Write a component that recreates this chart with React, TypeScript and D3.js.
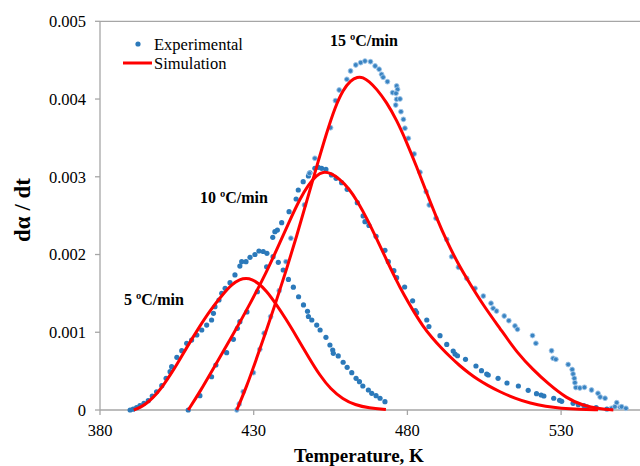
import React from "react";
import * as d3 from "d3";

// Experimental data: [Temperature K, dα/dt]
const exp5: [number, number][] = [
  [389.8, 0], [390.8, 0.00001], [391.9, 0.00003], [393.0, 0.000055], [394.3, 0.000086], [395.7, 0.00012],
  [397.0, 0.00018], [398.4, 0.000235], [400.1, 0.000313], [401.5, 0.000408], [402.8, 0.000493], [403.3, 0.000557],
  [405.0, 0.000678], [406.6, 0.000763], [408.2, 0.000858], [409.8, 0.0009], [411.5, 0.000965], [413.1, 0.001029],
  [414.7, 0.001093], [416.3, 0.001158], [416.9, 0.001244], [417.4, 0.001329], [418.7, 0.001415], [419.6, 0.001501],
  [420.7, 0.001565], [422.3, 0.001638], [423.9, 0.001737], [425.5, 0.001852], [426.1, 0.001908], [427.5, 0.001908],
  [428.8, 0.001964], [430.4, 0.002], [431.7, 0.002045], [433.1, 0.002039], [434.3, 0.002016], [436.3, 0.001972],
  [438.0, 0.0019], [439.6, 0.001801], [441.3, 0.001679], [442.9, 0.00158], [444.6, 0.001457], [446.2, 0.001351],
  [447.5, 0.00127], [447.8, 0.001203], [448.9, 0.001158], [450.5, 0.001093], [451.6, 0.001029], [453.5, 0.000935],
  [454.8, 0.000836], [455.7, 0.000772], [455.9, 0.000729], [457.5, 0.000695], [459.1, 0.000614], [460.4, 0.000549],
  [461.9, 0.00048], [463.3, 0.000408], [464.4, 0.000364], [465.5, 0.000309], [467.3, 0.000257], [468.4, 0.000215],
  [469.8, 0.000184], [471.1, 0.000151], [472.7, 0.000107],
];

const exp10: [number, number][] = [
  [408.7, 0], [412.5, 0.000184], [416.3, 0.000428], [417.7, 0.000579], [421.2, 0.000737], [423.4, 0.000909],
  [424.7, 0.001051], [425.5, 0.001136], [427.8, 0.001261], [431.2, 0.001522], [434.2, 0.001843], [436.2, 0.002221],
  [436.9, 0.002294], [437.7, 0.002315], [439.1, 0.002409], [441.5, 0.002551], [443.8, 0.002714], [444.5, 0.00283],
  [446.1, 0.002937], [447.8, 0.00301], [448.3, 0.003052], [449.9, 0.003109], [451.0, 0.003122], [452.1, 0.003109],
  [453.5, 0.003094], [455.3, 0.003023], [456.8, 0.00298], [458.6, 0.002924], [460.4, 0.002839], [463.7, 0.002667],
  [465.6, 0.002496], [466.2, 0.002422], [467.5, 0.002373], [469.8, 0.002234], [472.7, 0.002054], [473.8, 0.001908],
  [475.6, 0.001792], [476.5, 0.001702], [479.1, 0.001582], [481.7, 0.001405], [482.6, 0.00128], [483.0, 0.001252],
  [486.3, 0.001158], [487.0, 0.001074], [490.6, 0.000956], [492.8, 0.000843], [494.9, 0.000759], [495.5, 0.00072],
  [496.3, 0.000698], [498.9, 0.000652], [502.3, 0.000566], [504.1, 0.000506], [505.8, 0.000463], [506.3, 0.00045],
  [509.5, 0.000408], [512.4, 0.000347], [516.1, 0.000309], [519.3, 0.000253], [522.0, 0.00021], [523.5, 0.000193],
  [524.4, 0.00018], [527.6, 0.000151], [529.5, 0.000125], [530.2, 0.000112], [533.9, 0.000086], [535.6, 0.000068],
  [537.4, 0.000058], [538.4, 0.000042], [541.4, 0.00003], [544.9, 0.000013],
];

const exp15: [number, number][] = [
  [424.5, 0], [425.3, 0.000077], [426.6, 0.000235], [429.9, 0.00048], [432.0, 0.000781], [433.4, 0.000987],
  [435.5, 0.0012], [438.3, 0.001535], [440.5, 0.001908], [442.1, 0.002209], [446.5, 0.002637], [448.1, 0.003045],
  [449.9, 0.003238], [455.0, 0.003631], [456.6, 0.003979], [457.8, 0.004116], [460.3, 0.004254], [461.5, 0.004361],
  [463.2, 0.004438], [464.8, 0.004468], [466.2, 0.004489], [468.0, 0.00448], [469.5, 0.004425], [470.8, 0.004383],
  [471.6, 0.004318], [472.1, 0.00428], [473.5, 0.004223], [475.2, 0.004082], [476.5, 0.004168], [476.8, 0.004125],
  [476.3, 0.004074], [476.5, 0.003997], [477.6, 0.004001], [476.2, 0.003923], [477.9, 0.003837], [478.7, 0.003739],
  [479.2, 0.003624], [480.3, 0.003495], [482.2, 0.003293], [484.1, 0.003058], [486.1, 0.002808], [487.1, 0.002637],
  [489.3, 0.002466], [492.8, 0.002193], [494.4, 0.001972], [496.6, 0.001836], [499.3, 0.001694], [502.0, 0.001565],
  [504.7, 0.001466], [507.2, 0.001373], [507.9, 0.001308], [509.0, 0.001273], [511.5, 0.001209], [513.0, 0.001149],
  [515.0, 0.001081], [515.8, 0.001038], [520.7, 0.000958], [521.8, 0.000858], [526.9, 0.000762], [527.4, 0.000665],
  [528.3, 0.000652], [532.3, 0.000585], [533.6, 0.000521], [533.9, 0.000463], [534.3, 0.000408], [534.5, 0.000351],
  [534.8, 0.000289], [536.1, 0.000283], [537.6, 0.000292], [539.9, 0.000257], [542.0, 0.000215], [542.7, 0.000167],
  [544.3, 0.000151], [546.4, 0.000022], [548.1, 0.000094], [547.5, 0.000042], [549.2, 0.000035], [549.7, 0.000042],
  [551.1, 0.000022],
];

// Simulation curves: [Temperature K, dα/dt]
const sim5: [number, number][] = [
  [391.0, 0], [393.0, 0.00003], [395.0, 0.00008], [397.0, 0.00015], [399.0, 0.000235], [401.0, 0.00034],
  [403.0, 0.00046], [405.0, 0.000585], [408.0, 0.00079], [412.0, 0.00105], [416.0, 0.00129], [420.0, 0.00149],
  [423.0, 0.00162], [425.5, 0.00168], [427.5, 0.001695], [429.5, 0.00168], [431.5, 0.00163], [434.0, 0.00154],
  [437.0, 0.00138], [440.5, 0.00117], [444.0, 0.00094], [448.0, 0.00067], [451.6, 0.00044], [455.0, 0.00027],
  [459.0, 0.00014], [463.0, 0.000065], [467.5, 0.000025], [473.0, 0.000005],
];

const sim10: [number, number][] = [
  [408.7, 0], [412.5, 0.000232], [417.9, 0.000605], [423.4, 0.000978], [428.8, 0.001364], [434.2, 0.001775],
  [438.6, 0.002161], [441.8, 0.002444], [445.1, 0.00272], [447.8, 0.0029], [450.5, 0.00302], [452.5, 0.003065],
  [455.0, 0.00305], [458.0, 0.00297], [461.0, 0.00285], [464.0, 0.00267], [467.0, 0.00245], [470.0, 0.0022],
  [473.0, 0.00195], [476.0, 0.0017], [479.0, 0.00147], [482.0, 0.00127], [485.0, 0.00108], [488.0, 0.00093],
  [491.0, 0.0008], [494.0, 0.00068], [497.0, 0.00057], [500.0, 0.000475], [503.0, 0.00039], [506.0, 0.00032],
  [510.0, 0.000235], [515.0, 0.00015], [520.0, 0.000085], [525.0, 0.000045], [530.0, 0.000022], [536.0, 0.000009],
  [542.0, 0.000003],
];

const sim15: [number, number][] = [
  [424.5, 0], [427.7, 0.0003], [430.9, 0.00066], [434.2, 0.00103], [437.4, 0.00141], [440.7, 0.00181],
  [444.0, 0.00224], [447.2, 0.00268], [450.4, 0.00312], [453.6, 0.00355], [456.5, 0.0039], [459.1, 0.00412],
  [461.5, 0.00424], [463.8, 0.004285], [465.5, 0.00428], [467.5, 0.00423], [470.0, 0.00413], [473.2, 0.00396],
  [476.5, 0.00373], [479.7, 0.00345], [483.0, 0.00313], [486.2, 0.0028], [489.5, 0.00247], [492.8, 0.00217],
  [496.5, 0.00188], [500.4, 0.00162], [505.0, 0.00133], [510.1, 0.00105], [516.0, 0.00072], [520.9, 0.00052],
  [525.7, 0.00034], [531.8, 0.00015], [537.2, 0.000055], [542.7, 0.000015], [547.0, 0],
];

const xTicks = [380, 430, 480, 530];
const yTicks = [0, 0.001, 0.002, 0.003, 0.004, 0.005];
const yTickLabels = ["0", "0.001", "0.002", "0.003", "0.004", "0.005"];
const rateLabels = ["5 ºC/min", "10 ºC/min", "15 ºC/min"];
const rateLabelPos: [number, number][] = [[124, 305], [200, 203], [330, 46]];

const W = 640;
const H = 466;
const serif = "'Liberation Serif', 'Times New Roman', serif";

export default function App() {
  const x = d3.scaleLinear().domain([380, 580]).range([100, 714.8]);
  const y = d3.scaleLinear().domain([0, 0.005]).range([410, 21.3]);
  const line = d3
    .line<[number, number]>()
    .x((d) => x(d[0]))
    .y((d) => y(d[1]))
    .curve(d3.curveBasis);
  const axisColor = "#a6a6a6";
  const dotColor = "#2b79ba";

  return (
    <svg width={W} height={H} style={{ position: "absolute", left: 0, top: 0, background: "#fff" }}>
      {/* frame */}
      <line x1={x(380)} x2={W} y1={y(0.005)} y2={y(0.005)} stroke={axisColor} strokeWidth={1.3} />
      <line x1={x(380)} x2={x(380)} y1={y(0.005)} y2={y(0)} stroke={axisColor} strokeWidth={1.3} />
      <line x1={x(380)} x2={W} y1={y(0)} y2={y(0)} stroke={axisColor} strokeWidth={1.3} />
      {yTicks.map((t, i) => (
        <g key={"yt" + i}>
          <line x1={x(380) - 5} x2={x(380)} y1={y(t)} y2={y(t)} stroke={axisColor} strokeWidth={1.3} />
          <text x={86} y={y(t)} dy="0.35em" textAnchor="end" fontFamily={serif} fontSize={16.5} fill="#000">
            {yTickLabels[i]}
          </text>
        </g>
      ))}
      {xTicks.map((t) => (
        <g key={"xt" + t}>
          <line x1={x(t)} x2={x(t)} y1={y(0)} y2={y(0) + 5} stroke={axisColor} strokeWidth={1.3} />
          <text x={x(t)} y={436} textAnchor="middle" fontFamily={serif} fontSize={16.5} fill="#000">
            {t}
          </text>
        </g>
      ))}
      {/* axis titles */}
      <text
        transform={`translate(30, 210) rotate(-90)`}
        textAnchor="middle"
        fontFamily={serif}
        fontWeight="bold"
        fontSize={23}
        fill="#000"
      >
        dα / dt
      </text>
      <text x={359} y={462} textAnchor="middle" fontFamily={serif} fontWeight="bold" fontSize={19} fill="#000">
        Temperature, K
      </text>

      {/* experimental points */}
      {[exp5, exp10].map((s, si) => (
        <g key={"e" + si}>
          {s.map((d, i) => (
            <circle key={i} cx={x(d[0])} cy={y(d[1])} r={2.6} fill={dotColor} />
          ))}
        </g>
      ))}
      <g>
        {exp15.map((d, i) => (
          <circle key={i} cx={x(d[0])} cy={y(d[1])} r={2.4} fill="#3a84c2" stroke="#9cc3e6" strokeWidth={0.9} />
        ))}
      </g>

      {/* simulation curves */}
      {[sim5, sim10, sim15].map((s, i) => (
        <path key={"s" + i} d={line(s) || ""} fill="none" stroke="#ff0000" strokeWidth={3} />
      ))}

      {/* rate labels */}
      {rateLabels.map((l, i) => (
        <text
          key={l}
          x={rateLabelPos[i][0]}
          y={rateLabelPos[i][1]}
          fontFamily={serif}
          fontWeight="bold"
          fontSize={16}
          fill="#000"
        >
          {l}
        </text>
      ))}

      {/* legend */}
      <circle cx={138} cy={44} r={2.6} fill={dotColor} />
      <text x={154} y={49.5} fontFamily={serif} fontSize={16.5} fill="#000">
        Experimental
      </text>
      <line x1={123} x2={152} y1={63} y2={63} stroke="#ff0000" strokeWidth={3} />
      <text x={154} y={68.5} fontFamily={serif} fontSize={16.5} fill="#000">
        Simulation
      </text>
    </svg>
  );
}
